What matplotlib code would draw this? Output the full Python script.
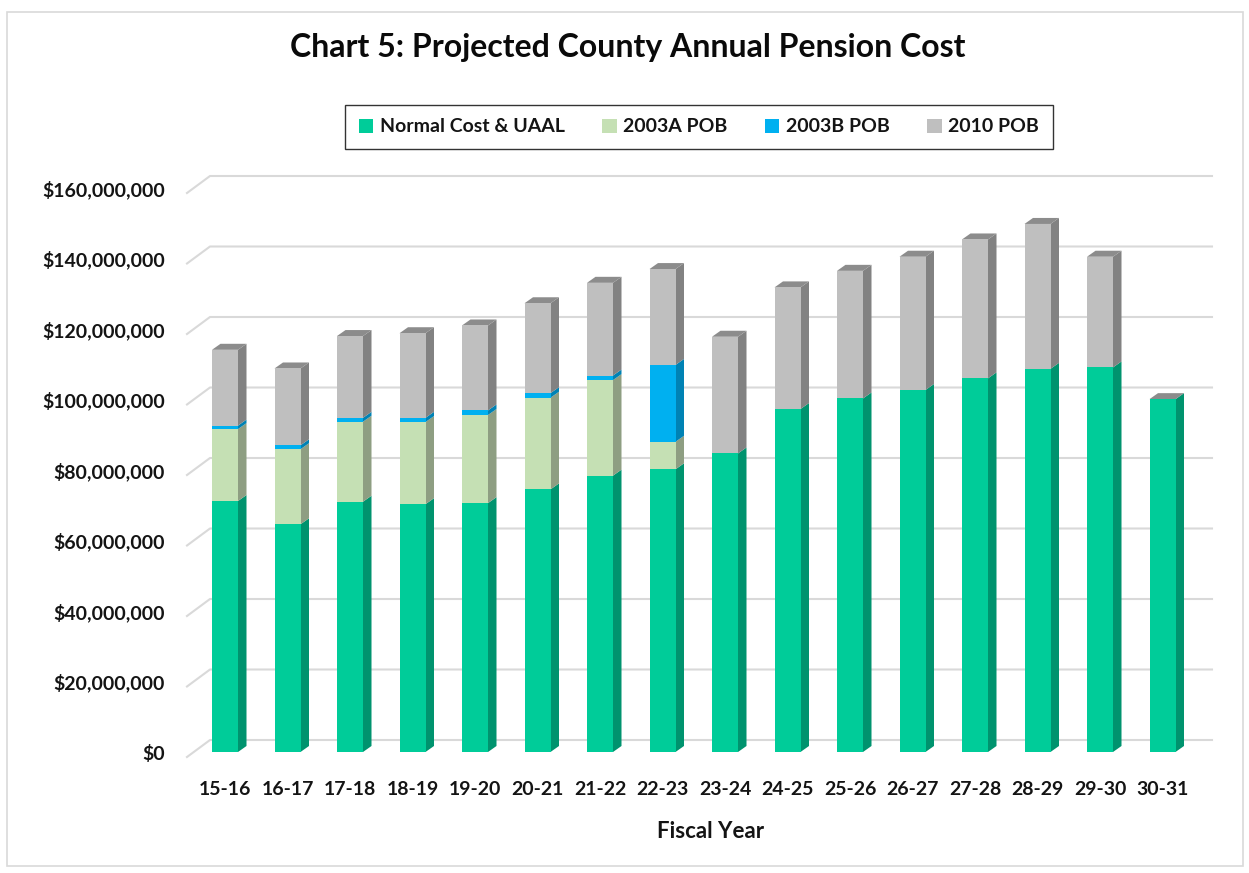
import numpy as np
import matplotlib
matplotlib.use("Agg")
from matplotlib import pyplot as plt
from matplotlib.patches import Polygon, Patch, Rectangle

plt.rcParams['font.family'] = ['Lato', 'DejaVu Sans']
plt.rcParams['font.weight'] = 'bold'

# values in $ millions
years = ["15-16", "16-17", "17-18", "18-19", "19-20", "20-21", "21-22", "22-23",
         "23-24", "24-25", "25-26", "26-27", "27-28", "28-29", "29-30", "30-31"]
normal_cost = [71.2, 64.6, 71.0, 70.3, 70.6, 74.5, 78.4, 80.2,
               84.7, 97.3, 100.3, 102.7, 106.0, 108.7, 109.1, 100.1]
pob_2003a = [20.4, 21.3, 22.7, 23.3, 25.0, 26.0, 27.1, 7.8,
             0, 0, 0, 0, 0, 0, 0, 0]
pob_2003b = [1.0, 1.1, 1.1, 1.2, 1.3, 1.3, 1.3, 21.8,
             0, 0, 0, 0, 0, 0, 0, 0]
pob_2010 = [21.5, 21.8, 23.2, 24.0, 24.1, 25.5, 26.3, 27.2,
            33.1, 34.5, 36.2, 37.8, 39.4, 41.1, 31.4, 0]
series_names = ["Normal Cost & UAAL", "2003A POB", "2003B POB", "2010 POB"]
yticks = np.arange(0, 161, 20)

front_cols = ["#00CC99", "#C5E0B4", "#00B0F0", "#BFBFBF"]
side_cols = ["#00936E", "#8E9E82", "#0082B4", "#828282"]
top_col = "#8C8C8C"
txt_col = "#141414"

W, H = 1249, 873
fig = plt.figure(figsize=(W / 100, H / 100), dpi=100)

# pixel layout
x0_px, x1_px = 187, 1212
zero_px, px_per_m = 752, 3.525
cat0_px, cat_step = 225, 62.5
ymin, ymax = -4, 166
bot_px = zero_px - ymin * px_per_m
top_px = zero_px - ymax * px_per_m
ax = fig.add_axes([x0_px / W, 1 - bot_px / H, (x1_px - x0_px) / W, (bot_px - top_px) / H])
xmin = -(cat0_px - x0_px) / cat_step
xmax = xmin + (x1_px - x0_px) / cat_step
ax.set_xlim(xmin, xmax)
ax.set_ylim(ymin, ymax)
for s in ax.spines.values():
    s.set_visible(False)

# depth offsets (data units)
dx = 8.5 / cat_step
dy = 6 / px_per_m
g_dx = 23 / cat_step
g_front = -5 / px_per_m
g_back = 12 / px_per_m

# back wall gridlines
for v in yticks:
    ax.plot([xmin, xmin + g_dx, xmax], [v + g_front, v + g_back, v + g_back],
            color="#D9D9D9", lw=1.5, zorder=1, clip_on=False)

x = np.arange(len(years))
bw = 26 / cat_step
data = [normal_cost, pob_2003a, pob_2003b, pob_2010]
bottom = np.zeros(len(years))
for k, vals in enumerate(data):
    vals = np.array(vals, dtype=float)
    ax.bar(x, vals, bw, bottom=bottom, color=front_cols[k], zorder=3, linewidth=0)
    for i in range(len(x)):
        if vals[i] <= 0:
            continue
        xr = x[i] + bw / 2
        y0, y1 = bottom[i], bottom[i] + vals[i]
        ax.add_patch(Polygon([(xr, y0), (xr + dx, y0 + dy), (xr + dx, y1 + dy), (xr, y1)],
                             closed=True, facecolor=side_cols[k], edgecolor='none', zorder=2.5))
    bottom = bottom + vals

for i in range(len(x)):
    xl, xr, t = x[i] - bw / 2, x[i] + bw / 2, bottom[i]
    ax.add_patch(Polygon([(xl, t), (xl + dx, t + dy), (xr + dx, t + dy), (xr, t)],
                         closed=True, facecolor=top_col, edgecolor='none', zorder=2.5))

ax.set_yticks(yticks)
ax.set_yticklabels(["${:,.0f}".format(v * 1e6) for v in yticks])
ax.set_xticks(x)
ax.set_xticklabels(years)
ax.tick_params(axis='y', length=0, pad=16, labelsize=14, labelcolor=txt_col)
ax.tick_params(axis='x', length=0, pad=11, labelsize=14, labelcolor=txt_col)

fig.text(711 / W, 1 - 831 / H, "Fiscal Year", ha='center', va='center',
         fontsize=16, fontweight='bold', color=txt_col)
fig.text(628 / W, 1 - 47 / H, "Chart 5: Projected County Annual Pension Cost",
         ha='center', va='center', fontsize=23, fontweight='bold', color="#0A0A0A")

handles = [Patch(facecolor=c, edgecolor='none') for c in front_cols]
leg = fig.legend(handles, series_names, loc='center', bbox_to_anchor=(699 / W, 1 - 127 / H),
                 ncol=4, frameon=True, fancybox=False, handlelength=0.75, handleheight=0.75,
                 handletextpad=0.35, columnspacing=1.9, borderpad=0.7,
                 prop={'size': 14, 'weight': 'bold'})
leg.get_frame().set_edgecolor("black")
leg.get_frame().set_linewidth(1.0)
for t in leg.get_texts():
    t.set_color(txt_col)

fig.patches.append(Rectangle((7 / W, 1 - 866 / H), (1243 - 7) / W, (866 - 12) / H,
                             transform=fig.transFigure, fill=False, edgecolor="#D9D9D9", lw=1.2))

fig.savefig("out.png", dpi=100, facecolor='white')
